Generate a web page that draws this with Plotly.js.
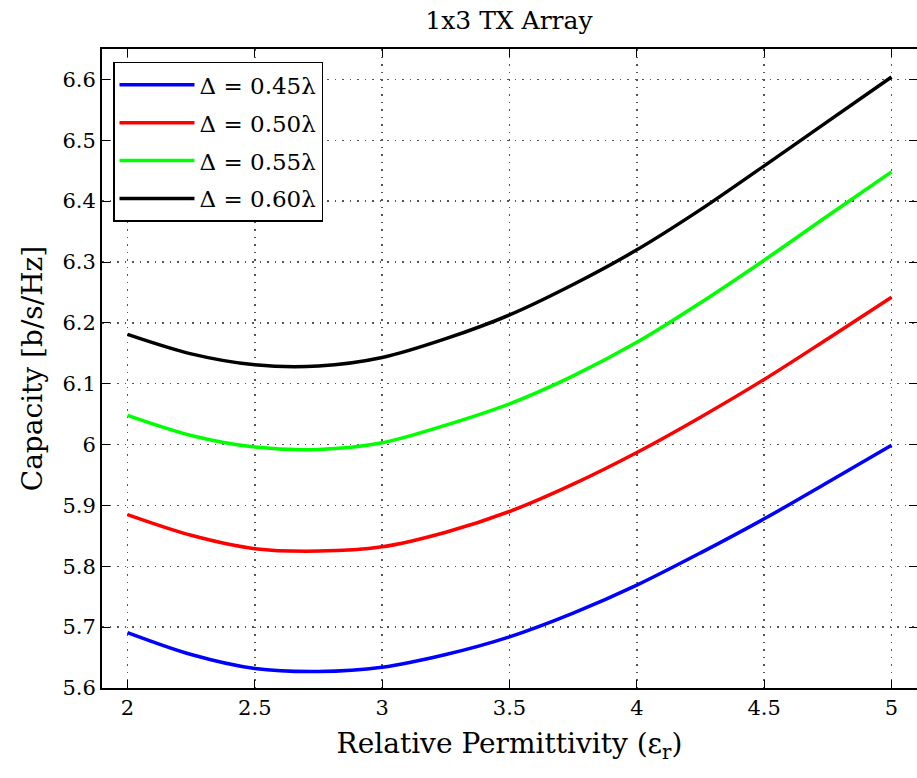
<!DOCTYPE html>
<html>
<head>
<meta charset="utf-8">
<script src="https://cdn.plot.ly/plotly-3.0.1.min.js"></script>
<style>html,body{margin:0;padding:0;background:#fff;}#chart{width:917px;height:778px;}</style>
</head>
<body>
<div id="chart"></div>
<script>
const permittivity = [2, 2.25, 2.5, 2.75, 3, 3.25, 3.5, 3.75, 4, 4.25, 4.5, 4.75, 5];
const cap045 = [5.691, 5.655, 5.632, 5.627, 5.634, 5.655, 5.684, 5.723, 5.769, 5.822, 5.878, 5.938, 5.999];
const cap050 = [5.885, 5.851, 5.829, 5.825, 5.832, 5.856, 5.890, 5.935, 5.987, 6.045, 6.107, 6.174, 6.242];
const cap055 = [6.048, 6.015, 5.996, 5.992, 6.003, 6.032, 6.067, 6.113, 6.168, 6.233, 6.303, 6.376, 6.448];
const cap060 = [6.181, 6.149, 6.131, 6.129, 6.143, 6.174, 6.213, 6.263, 6.320, 6.386, 6.458, 6.531, 6.604];
const seriesNames = ['Δ = 0.45λ', 'Δ = 0.50λ', 'Δ = 0.55λ', 'Δ = 0.60λ'];
const seriesColors = ['#0000ff', '#ff0000', '#00ff00', '#000000'];
const xTicks = [2, 2.5, 3, 3.5, 4, 4.5, 5];
const yTicks = [5.6, 5.7, 5.8, 5.9, 6, 6.1, 6.2, 6.3, 6.4, 6.5, 6.6];

const allY = [cap045, cap050, cap055, cap060];
const traces = allY.map((ys, i) => ({
  x: permittivity, y: ys, type: 'scatter', mode: 'lines',
  name: seriesNames[i], legendgroup: 'g' + i,
  line: {color: seriesColors[i], width: 3.5, shape: 'spline', smoothing: 0.9}
}));

const serif = 'DejaVu Serif';
const axisCommon = {
  showline: true, linecolor: '#000', linewidth: 2, mirror: 'ticks',
  ticks: 'inside', ticklen: 8, tickwidth: 1, tickcolor: '#000',
  showgrid: true, gridcolor: '#555', griddash: '1.5px,6px', gridwidth: 1.5,
  zeroline: false, tickfont: {family: serif, size: 21, color: '#000'}
};
const layout = {
  width: 917, height: 778,
  font: {family: serif, color: '#000'},
  margin: {l: 102, r: 0, t: 49, b: 90},
  paper_bgcolor: '#fff', plot_bgcolor: '#fff',
  title: {text: '1x3 TX Array', x: 0.555, xanchor: 'center', y: 0.974, yanchor: 'middle',
          font: {family: serif, size: 25, color: '#000'}},
  xaxis: Object.assign({}, axisCommon, {
    range: [1.9, 5.1], tickvals: xTicks, ticktext: xTicks.map(String),
    title: {text: 'Relative Permittivity (ε<sub>r</sub>)', standoff: 14,
            font: {family: serif, size: 28, color: '#000'}}
  }),
  yaxis: Object.assign({}, axisCommon, {
    range: [5.6, 6.65], tickvals: yTicks, ticktext: yTicks.map(v => String(v)),
    title: {text: 'Capacity [b/s/Hz]', standoff: 12,
            font: {family: serif, size: 28, color: '#000'}}
  }),
  legend: {
    x: 0.0135, y: 0.98, xanchor: 'left', yanchor: 'top',
    bgcolor: '#fff', bordercolor: '#000', borderwidth: 1.5,
    font: {family: serif, size: 23, color: '#000'},
    itemwidth: 75, tracegroupgap: 5
  },
  showlegend: true
};
Plotly.newPlot('chart', traces, layout, {displayModeBar: false, staticPlot: true});
</script>
</body>
</html>
